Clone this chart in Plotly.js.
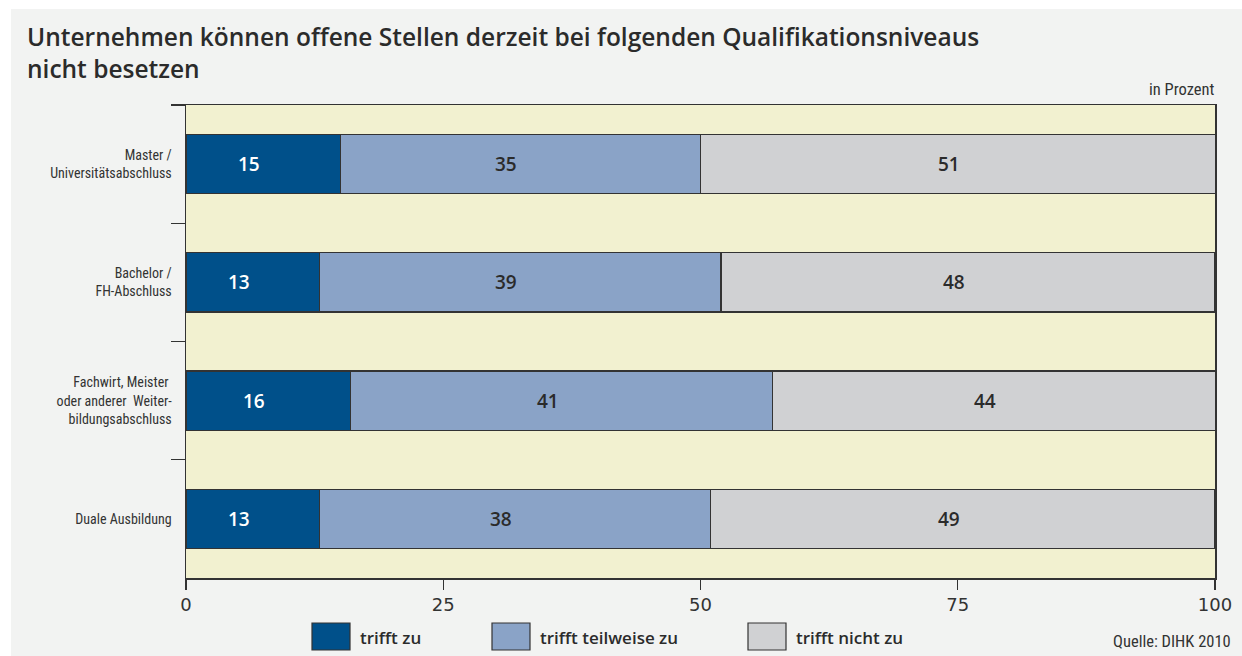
<!DOCTYPE html>
<html>
<head>
<meta charset="utf-8">
<script src="https://cdn.plot.ly/plotly-3.0.1.min.js"></script>
<style>
html, body { margin: 0; padding: 0; background: #ffffff; }
#chart { position: absolute; left: 11px; top: 9px; width: 1231px; height: 647px; }
</style>
</head>
<body>
<div id="chart"></div>
<script>
// ---- data ----
const categories = [
  "Master /<br>Universitätsabschluss",
  "Bachelor /<br>FH-Abschluss",
  "Fachwirt, Meister <br>oder anderer  Weiter-<br>bildungsabschluss",
  "Duale Ausbildung"
];
const seriesNames = ["trifft zu", "trifft teilweise zu", "trifft nicht zu"];
const triffZu = [15, 13, 16, 13];
const triffTeilweise = [35, 39, 41, 38];
const triffNicht = [51, 48, 44, 49];
const xTicks = [0, 25, 50, 75, 100];
const titleText = "Unternehmen können offene Stellen derzeit bei folgenden Qualifikationsniveaus<br>nicht besetzen";

// ---- styling ----
const colors = ["#00508a", "#8aa3c7", "#d0d1d3"];
const textColors = ["#ffffff", "#2b2b2b", "#2b2b2b"];
const FONT = "'Liberation Sans Narrow', 'Roboto Condensed', 'Open Sans', sans-serif";
const series = [triffZu, triffTeilweise, triffNicht];

const traces = series.map((vals, i) => ({
  type: "bar",
  orientation: "h",
  name: seriesNames[i],
  y: categories,
  x: vals,
  marker: { color: colors[i], line: { color: "#333333", width: 1.2 } },
  hoverinfo: "x+name",
  showlegend: false
}));

// plot area in div pixels
const L = 175, R = 1204, T = 96, B = 569;
const px = v => (v - L) / (R - L);
const py = v => (B - v) / (B - T);

const annotations = [];
// value labels computed from data
const cum = categories.map(() => 0);
series.forEach((vals, i) => {
  vals.forEach((v, j) => {
    annotations.push({
      x: cum[j] + v / 2, y: categories[j], xref: "x", yref: "y",
      text: String(v), showarrow: false, xshift: -14,
      font: { family: "'Open Sans', sans-serif", size: 19, color: textColors[i], weight: 600 }
    });
    cum[j] += v;
  });
});

// custom legend
const shapes = [];
const legendBoxLeft = [301, 481, 737];
seriesNames.forEach((n, i) => {
  shapes.push({
    type: "rect", xref: "paper", yref: "paper",
    x0: px(legendBoxLeft[i]), x1: px(legendBoxLeft[i] + 38),
    y0: py(641), y1: py(614),
    fillcolor: colors[i], line: { color: "#333333", width: 1.2 }
  });
  annotations.push({
    xref: "paper", yref: "paper", x: px(legendBoxLeft[i] + 46), y: py(628),
    xanchor: "left", yanchor: "middle", showarrow: false, text: n,
    font: { family: "'Open Sans', sans-serif", size: 17, color: "#2b2b2b", weight: 600 }
  });
});

// title
annotations.push({
  xref: "paper", yref: "paper", x: px(14), y: py(9), xanchor: "left", yanchor: "top",
  align: "left", showarrow: false, text: titleText,
  font: { family: "'Open Sans', sans-serif", size: 24.5, color: "#2b2b2b", weight: 600 }
});

annotations.push({
  xref: "paper", yref: "paper", x: px(1206), y: py(80), xanchor: "right", yanchor: "middle",
  showarrow: false, text: "in Prozent",
  font: { family: FONT, size: 16.5, color: "#333333" }
});
annotations.push({
  xref: "paper", yref: "paper", x: px(1222), y: py(632), xanchor: "right", yanchor: "middle",
  showarrow: false, text: "Quelle: DIHK 2010",
  font: { family: FONT, size: 16.5, color: "#333333" }
});

const layout = {
  width: 1231, height: 647,
  paper_bgcolor: "#f2f3f2",
  plot_bgcolor: "#f2f1d0",
  margin: { l: L, r: 1231 - R, t: T, b: 647 - B, pad: 0 },
  barmode: "stack",
  bargap: 0.5,
  showlegend: false,
  xaxis: {
    range: [0, 100],
    tickvals: xTicks,
    ticktext: xTicks.map(String),
    ticks: "outside", ticklen: 10, tickwidth: 1.2, tickcolor: "#333333",
    showline: true, linecolor: "#333333", linewidth: 1.5, mirror: true,
    showgrid: false, zeroline: false, fixedrange: true,
    tickfont: { family: "'DejaVu Sans', sans-serif", size: 18, color: "#333333" }
  },
  yaxis: {
    type: "category",
    autorange: "reversed",
    tickson: "boundaries",
    ticks: "outside", ticklen: 14, tickwidth: 1.2, tickcolor: "#333333",
    ticklabelstandoff: 10,
    showline: true, linecolor: "#333333", linewidth: 1.5, mirror: true,
    showgrid: false, zeroline: false, fixedrange: true,
    tickfont: { family: FONT, size: 14, color: "#333333" }
  },
  annotations: annotations,
  shapes: shapes
};

Plotly.newPlot("chart", traces, layout, { displayModeBar: false, staticPlot: true });
</script>
</body>
</html>
